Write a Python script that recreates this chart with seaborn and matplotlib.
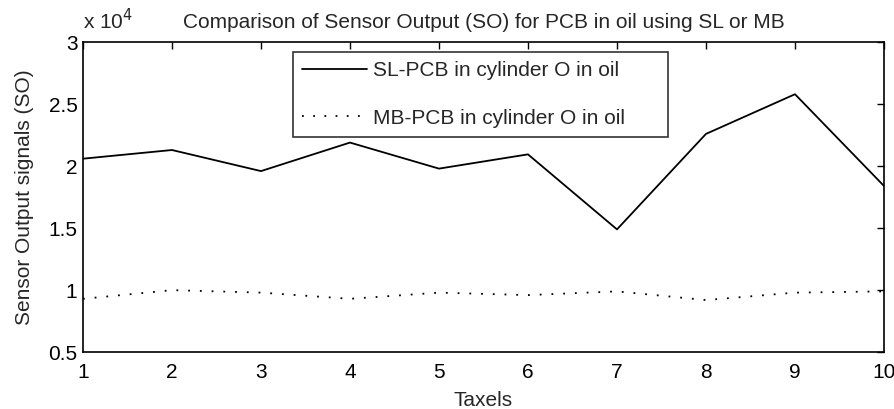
import matplotlib
matplotlib.use("Agg")
import matplotlib.pyplot as plt
import pandas as pd
import seaborn as sns
from matplotlib.ticker import FuncFormatter

taxels = [1, 2, 3, 4, 5, 6, 7, 8, 9, 10]
sl_values = [20600, 21300, 19600, 21900, 19800, 20950, 14900, 22600, 25800, 18400]
mb_values = [9300, 10000, 9800, 9300, 9800, 9600, 9900, 9200, 9800, 9900]
series_names = ["SL-PCB in cylinder O in oil", "MB-PCB in cylinder O in oil"]

df = pd.DataFrame({
    "Taxels": taxels * 2,
    "SO": sl_values + mb_values,
    "series": [series_names[0]] * len(taxels) + [series_names[1]] * len(taxels),
})

sns.set_style("white")
plt.rcParams["font.family"] = ["Liberation Sans", "DejaVu Sans"]
fs = 15

fig = plt.figure(figsize=(8.95, 4.09), dpi=100)
ax = fig.add_axes([0.0927, 0.139, 0.895, 0.758])

sns.lineplot(data=df, x="Taxels", y="SO", hue="series", style="series",
             palette=["black", "black"], dashes=[(None, None), (1, 5.5)],
             linewidth=1.3, ax=ax, legend=True)
for line in ax.get_lines():
    if line.get_label() == series_names[1]:
        line.set_linestyle((0, (1, 5.2)))

ax.set_xlim(1, 10)
ax.set_ylim(5000, 30000)
ax.set_xticks(taxels)
ax.set_yticks([5000, 10000, 15000, 20000, 25000, 30000])
ax.yaxis.set_major_formatter(FuncFormatter(lambda v, p: f"{v / 1e4:g}"))
ax.tick_params(direction="in", length=5, width=1, top=True, right=True,
               labelsize=fs, colors="black", pad=4)
ax.tick_params(axis="x", pad=8)
for s in ax.spines.values():
    s.set_visible(True)
    s.set_color("black")
    s.set_linewidth(1.2)

ax.set_xlabel("Taxels", fontsize=fs, labelpad=6)
ax.set_ylabel("Sensor Output signals (SO)", fontsize=fs, labelpad=10)
ax.set_title("Comparison of Sensor Output (SO) for PCB in oil using SL or MB",
             fontsize=fs, pad=10)
ax.text(0.0, 1.03, "x 10$^4$", transform=ax.transAxes, fontsize=fs,
        ha="left", va="bottom")

handles, labels = ax.get_legend_handles_labels()
leg = ax.legend(handles, labels, loc="lower left",
                bbox_to_anchor=(0.262, 0.694, 0.468, 0.283), mode="expand",
                borderaxespad=0, frameon=True, fancybox=False,
                handlelength=3.1, handletextpad=0.3, labelspacing=1.35,
                borderpad=0.45, fontsize=fs)
leg.get_frame().set_edgecolor("black")
leg.get_frame().set_linewidth(1.2)

fig.savefig("out.png", dpi=100)
